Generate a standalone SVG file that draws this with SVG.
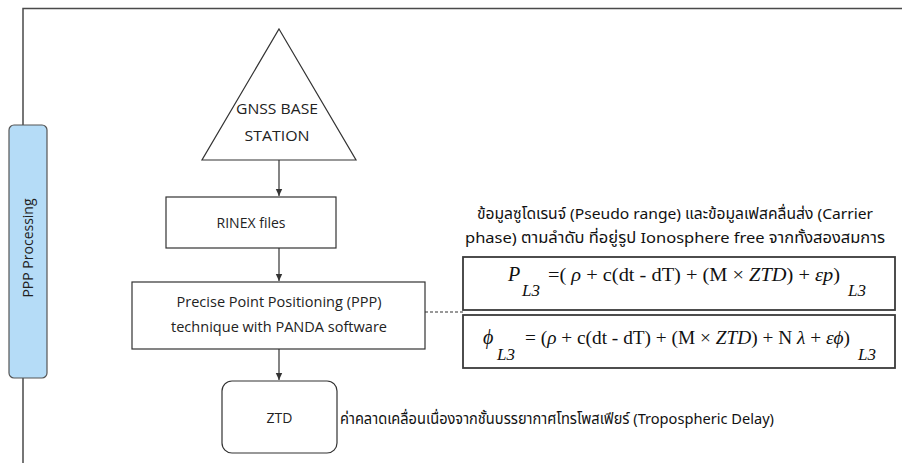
<svg xmlns="http://www.w3.org/2000/svg" width="902" height="463" viewBox="0 0 902 463">
<style>
.frame{fill:none;stroke:#4a4a4a;stroke-width:1.5}
.shape{fill:#fff;stroke:#333;stroke-width:1.2}
.fbox{fill:#fff;stroke:#3a3a3a;stroke-width:1.8}
.conn{fill:none;stroke:#333;stroke-width:1.2}
.lbl{font-family:"Open Sans","Noto Sans",sans-serif;font-size:14px;fill:#222;text-anchor:middle}
.thai{font-family:"Noto Sans Thai","Noto Sans","DejaVu Sans",sans-serif;font-size:15px;fill:#111}
.math{font-family:"Liberation Serif","Times New Roman",serif;fill:#111}
</style>
<defs>
<marker id="ah" markerWidth="8" markerHeight="8" refX="7" refY="4" orient="auto" markerUnits="userSpaceOnUse">
<path d="M0,0.8 L7,4 L0,7.2 Z" fill="#333"/>
</marker>
</defs>
<g id="frame">
<path class="frame" d="M902,8.5 H23 V125 M23,378 V463"/>
</g>
<g id="ppp-processing">
<rect x="9" y="125" width="38" height="253" rx="5" fill="#b5dcf7" stroke="#555" stroke-width="1.2"/>
<text class="lbl" transform="translate(33,248) rotate(-90)">PPP Processing</text>
</g>
<g id="connectors">
<line class="conn" x1="279" y1="160" x2="279" y2="196" marker-end="url(#ah)"/>
<line class="conn" x1="279" y1="248" x2="279" y2="281" marker-end="url(#ah)"/>
<line class="conn" x1="279" y1="349" x2="279" y2="380" marker-end="url(#ah)"/>
<line class="conn" x1="425" y1="312" x2="463" y2="312" stroke-dasharray="3,2"/>
</g>
<g id="gnss">
<polygon class="shape" points="279,29 356,160 202,160"/>
<text class="lbl" x="277" y="114" font-size="16" textLength="82" lengthAdjust="spacingAndGlyphs">GNSS BASE</text>
<text class="lbl" x="277" y="141" font-size="16" textLength="65" lengthAdjust="spacingAndGlyphs">STATION</text>
</g>
<g id="rinex">
<rect class="shape" x="166" y="197" width="170" height="51"/>
<text class="lbl" x="251" y="228">RINEX files</text>
</g>
<g id="ppp">
<rect class="shape" x="132" y="282" width="293" height="67"/>
<text class="lbl" x="279" y="307" textLength="205" lengthAdjust="spacingAndGlyphs">Precise Point Positioning (PPP)</text>
<text class="lbl" x="279" y="332" textLength="216" lengthAdjust="spacingAndGlyphs">technique with PANDA software</text>
</g>
<g id="ztd">
<rect class="shape" x="222" y="381" width="115" height="72" rx="10"/>
<text class="lbl" x="279.5" y="423" font-size="15">ZTD</text>
</g>
<g id="ztd-note">
<text class="thai" x="340" y="424" font-size="15" textLength="434" lengthAdjust="spacingAndGlyphs">ค่าคลาดเคลื่อนเนื่องจากชั้นบรรยากาศโทรโพสเฟียร์ (Tropospheric Delay)</text>
</g>
<g id="obs-note">
<text class="thai" x="477" y="219" textLength="396" lengthAdjust="spacingAndGlyphs">ข้อมูลซูโดเรนจ์ (Pseudo range) และข้อมูลเฟสคลื่นส่ง (Carrier</text>
<text class="thai" x="465" y="243" textLength="420" lengthAdjust="spacingAndGlyphs">phase) ตามลำดับ ที่อยู่รูป Ionosphere free  จากทั้งสองสมการ</text>
</g>
<g id="eq-code">
<rect class="fbox" x="463" y="257" width="432" height="53"/>
<text class="math" x="508" y="281" font-size="20" font-style="italic">P</text>
<text class="math" x="522" y="296" font-size="17" font-style="italic">L3</text>
<text class="math" x="548" y="281" font-size="18" textLength="292" lengthAdjust="spacingAndGlyphs">=( <tspan font-style="italic">ρ</tspan> + c(dt - dT) + (M × <tspan font-style="italic">ZTD</tspan>) + <tspan font-style="italic">εp</tspan>)</text>
<text class="math" x="848" y="296" font-size="17" font-style="italic">L3</text>
</g>
<g id="eq-phase">
<rect class="fbox" x="463" y="315" width="432" height="53"/>
<text class="math" x="483" y="344" font-size="20" font-style="italic">ϕ</text>
<text class="math" x="497" y="360" font-size="17" font-style="italic">L3</text>
<text class="math" x="525" y="344" font-size="18" textLength="325" lengthAdjust="spacingAndGlyphs">=  (<tspan font-style="italic">ρ</tspan> + c(dt - dT) + (M × <tspan font-style="italic">ZTD</tspan>) + N <tspan font-style="italic">λ</tspan> + <tspan font-style="italic">εϕ</tspan>)</text>
<text class="math" x="858" y="360" font-size="17" font-style="italic">L3</text>
</g>
</svg>
